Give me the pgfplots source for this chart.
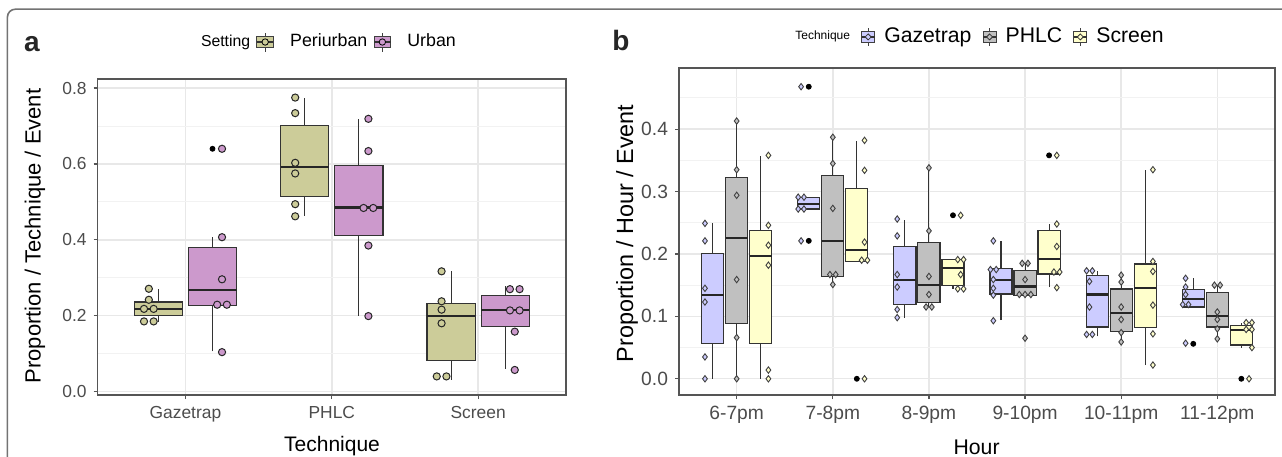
\documentclass[border=0pt]{standalone}
\usepackage{pgfplots}
\pgfplotsset{compat=1.18}
\usepackage{fontspec}
\setmainfont{Liberation Sans}
\definecolor{peri}{RGB}{204,204,153}
\definecolor{urb}{RGB}{204,153,204}
\definecolor{gaze}{RGB}{204,204,255}
\definecolor{phlc}{RGB}{192,192,192}
\definecolor{scr}{RGB}{255,255,204}
\definecolor{frame}{RGB}{85,85,85}
% box: position, lower whisker, Q1, median, Q3, upper whisker, colour ; half width in \bw
\newcommand{\bx}[7]{%
  \pgfmathsetmacro\xl{#1-\bw}\pgfmathsetmacro\xr{#1+\bw}%
  \edef\doit{%
    \noexpand\addplot[forget plot, draw=black!80, line width=0.55pt] coordinates {(#1,#2) (#1,#3)};%
    \noexpand\addplot[forget plot, draw=black!80, line width=0.55pt] coordinates {(#1,#5) (#1,#6)};%
    \noexpand\addplot[forget plot, draw=black!80, fill=#7, line width=0.6pt] coordinates {(\xl,#3) (\xr,#3) (\xr,#5) (\xl,#5)} --cycle;%
    \noexpand\addplot[forget plot, draw=black!85, line width=1.1pt] coordinates {(\xl,#4) (\xr,#4)};%
  }\doit}
\newcommand{\pa}[2]{\addplot[forget plot, only marks, mark=*, mark size=1.8pt, mark options={draw=black!85, fill=#1, line width=0.5pt}] coordinates {#2};}
\newcommand{\pb}[2]{\addplot[forget plot, only marks, mark=diamond*, mark size=1.6pt, mark options={draw=black!75, fill=#1, line width=0.45pt}] coordinates {#2};}
\newcommand{\outl}[1]{\addplot[forget plot, only marks, mark=*, mark size=1.25pt, mark options={draw=black, fill=black}] coordinates {#1};}
\newcommand{\keya}[1]{%
  \draw[black!75,line width=0.5pt] (4.15pt,-4.75pt)--(4.15pt,4.75pt);
  \draw[black!75,fill=#1,line width=0.5pt] (0pt,-2.9pt) rectangle (8.3pt,2.9pt);
  \draw[black!80,line width=0.7pt] (0pt,0pt)--(8.3pt,0pt);
  \draw[black,fill=#1,line width=0.4pt] (4.15pt,0pt) circle (1.6pt);}
\newcommand{\keyb}[1]{%
  \draw[black!75,line width=0.45pt] (3.25pt,-4.5pt)--(3.25pt,4.5pt);
  \draw[black!75,fill=#1,line width=0.45pt] (0pt,-2.6pt) rectangle (6.5pt,2.6pt);
  \draw[black!80,line width=0.6pt] (0pt,0pt)--(6.5pt,0pt);
  \draw[black!80,fill=#1,line width=0.4pt] (3.25pt,1.5pt)--(4.75pt,0pt)--(3.25pt,-1.5pt)--(1.75pt,0pt)--cycle;}
\pgfplotsset{
  ggbase/.style={
    scale only axis, anchor=south west,
    /pgf/number format/assume math mode=true,
    grid=both,
    major grid style={color=black!9, line width=0.7pt},
    minor grid style={color=black!5, line width=0.45pt},
    axis line style={frame, line width=0.6pt},
    tick style={frame, line width=0.6pt},
    major tick length=2pt, minor tick length=0pt, tick align=outside,
    xtick pos=bottom, ytick pos=left,
    yticklabel style={/pgf/number format/.cd, fixed, fixed zerofill, precision=1},
    legend style={draw=none, fill=none, legend columns=-1, inner sep=0pt},
  }
}
\begin{document}
\begin{tikzpicture}
\path[use as bounding box] (0,0) rectangle (641pt,228pt);
\fill[white] (0,0) rectangle (641pt,228pt);
\draw[black!55, line width=0.8pt, rounded corners=4pt] (3.7pt,-2pt) -- (3.7pt,223.4pt) -- (645pt,223.4pt);

% ---------------- panel a ----------------
\def\bw{0.165}
\begin{axis}[ggbase,
  at={(48.8pt,30.5pt)}, width=234.2pt, height=158pt,
  xmin=0.4, xmax=3.6, ymin=-0.009, ymax=0.824,
  xtick={1,2,3}, xticklabels={Gazetrap,PHLC,Screen},
  ytick={0,0.2,0.4,0.6,0.8}, minor ytick={0.1,0.3,0.5,0.7},
  tick label style={font=\fontsize{8.7}{10}\selectfont, text=black!70},
  legend style={at={(0.48,1.117)}, anchor=center, font=\fontsize{8.9}{10}\selectfont,
      /tikz/every even column/.append style={column sep=1pt},
      /tikz/every odd column/.append style={column sep=6pt}},
]
\addlegendimage{empty legend}\addlegendentry{\fontsize{7.9}{9}\selectfont Setting}
\addlegendimage{legend image code/.code={\keya{peri}}}\addlegendentry{Periurban}
\addlegendimage{legend image code/.code={\keya{urb}}}\addlegendentry{Urban}
% Periurban boxes
\bx{0.815}{0.183}{0.200}{0.218}{0.236}{0.271}{peri}
\bx{1.815}{0.464}{0.514}{0.593}{0.701}{0.775}{peri}
\bx{2.815}{0.031}{0.082}{0.200}{0.233}{0.317}{peri}
% Urban boxes
\bx{1.185}{0.106}{0.227}{0.268}{0.379}{0.407}{urb}
\bx{2.185}{0.200}{0.411}{0.485}{0.597}{0.719}{urb}
\bx{3.185}{0.060}{0.171}{0.215}{0.253}{0.279}{urb}
\outl{(1.185,0.640)}
\pa{peri}{(0.75,0.271) (0.75,0.242) (0.717,0.218) (0.783,0.218) (0.717,0.185) (0.783,0.185)
 (1.75,0.775) (1.75,0.734) (1.75,0.603) (1.75,0.575) (1.75,0.494) (1.75,0.462)
 (2.75,0.317) (2.75,0.238) (2.75,0.216) (2.75,0.180) (2.717,0.040) (2.783,0.040)}
\pa{urb}{(1.25,0.640) (1.25,0.407) (1.25,0.296) (1.217,0.229) (1.283,0.229) (1.25,0.104)
 (2.25,0.719) (2.25,0.634) (2.217,0.484) (2.283,0.484) (2.25,0.385) (2.25,0.199)
 (3.217,0.270) (3.283,0.270) (3.217,0.214) (3.283,0.214) (3.25,0.158) (3.25,0.057)}
\end{axis}

% ---------------- panel b ----------------
\def\bw{0.115}
\begin{axis}[ggbase,
  at={(339.5pt,30.5pt)}, width=298pt, height=163.5pt,
  xmin=0.4, xmax=6.6, ymin=-0.026, ymax=0.498,
  xtick={1,2,3,4,5,6}, xticklabels={6-7pm,7-8pm,8-9pm,9-10pm,10-11pm,11-12pm},
  ytick={0,0.1,0.2,0.3,0.4}, minor ytick={0.05,0.15,0.25,0.35,0.45},
  tick label style={font=\fontsize{9.6}{11}\selectfont, text=black!70},
  legend style={at={(0.5,1.095)}, anchor=center, font=\fontsize{10.6}{12}\selectfont,
      /tikz/every even column/.append style={column sep=3.5pt},
      /tikz/every odd column/.append style={column sep=2.5pt}},
]
\addlegendimage{empty legend}\addlegendentry{\fontsize{6}{7}\selectfont Technique}
\addlegendimage{legend image code/.code={\keyb{gaze}}}\addlegendentry{Gazetrap}
\addlegendimage{legend image code/.code={\keyb{phlc}}}\addlegendentry{PHLC}
\addlegendimage{legend image code/.code={\keyb{scr}}}\addlegendentry{Screen}
% Gazetrap
\bx{0.75}{0}{0.056}{0.134}{0.201}{0.249}{gaze}
\bx{1.75}{0.272}{0.272}{0.280}{0.291}{0.291}{gaze}
\bx{2.75}{0.098}{0.119}{0.158}{0.212}{0.255}{gaze}
\bx{3.75}{0.094}{0.136}{0.158}{0.177}{0.220}{gaze}
\bx{4.75}{0.068}{0.083}{0.135}{0.166}{0.172}{gaze}
\bx{5.75}{0.115}{0.115}{0.128}{0.143}{0.161}{gaze}
% PHLC
\bx{1}{0}{0.089}{0.226}{0.323}{0.413}{phlc}
\bx{2}{0.151}{0.164}{0.221}{0.326}{0.387}{phlc}
\bx{3}{0.115}{0.122}{0.150}{0.219}{0.338}{phlc}
\bx{4}{0.133}{0.133}{0.148}{0.174}{0.185}{phlc}
\bx{5}{0.059}{0.076}{0.106}{0.144}{0.166}{phlc}
\bx{6}{0.064}{0.083}{0.100}{0.138}{0.150}{phlc}
% Screen
\bx{1.25}{0}{0.056}{0.197}{0.237}{0.357}{scr}
\bx{2.25}{0.188}{0.188}{0.206}{0.305}{0.381}{scr}
\bx{3.25}{0.144}{0.150}{0.178}{0.191}{0.191}{scr}
\bx{4.25}{0.147}{0.168}{0.192}{0.237}{0.248}{scr}
\bx{5.25}{0.022}{0.082}{0.145}{0.184}{0.334}{scr}
\bx{6.25}{0.050}{0.054}{0.078}{0.086}{0.090}{scr}
\outl{(1.75,0.468) (1.75,0.221) (2.25,0) (3.25,0.262) (4.25,0.358) (5.75,0.056) (6.25,0)}
\pb{gaze}{(0.67,0.249) (0.67,0.221) (0.67,0.145) (0.67,0.123) (0.67,0.035) (0.67,0)
 (1.67,0.468) (1.64,0.291) (1.70,0.291) (1.64,0.272) (1.70,0.272) (1.67,0.221)
 (2.67,0.256) (2.67,0.229) (2.67,0.167) (2.67,0.147) (2.67,0.111) (2.67,0.098)
 (3.67,0.221) (3.64,0.175) (3.70,0.175) (3.67,0.159) (3.67,0.145) (3.67,0.134) (3.67,0.093)
 (4.64,0.173) (4.70,0.173) (4.67,0.156) (4.67,0.115) (4.64,0.071) (4.70,0.071)
 (5.67,0.161) (5.67,0.147) (5.67,0.135) (5.64,0.119) (5.70,0.119) (5.67,0.057)}
\pb{phlc}{(1,0.413) (1,0.335) (1,0.294) (1,0.159) (1,0.066) (1,0)
 (2,0.387) (2,0.345) (2,0.273) (1.97,0.167) (2.03,0.167) (2,0.151)
 (3,0.338) (3,0.237) (3,0.164) (3,0.135) (2.97,0.115) (3.03,0.115)
 (3.97,0.185) (4.03,0.185) (4,0.159) (3.94,0.135) (4,0.135) (4.06,0.135) (4,0.065)
 (5,0.166) (5,0.155) (5,0.115) (5,0.095) (5,0.074) (5,0.059)
 (5.97,0.150) (6.03,0.150) (6,0.107) (6,0.095) (6,0.080) (6,0.064)}
\pb{scr}{(1.33,0.358) (1.33,0.246) (1.33,0.214) (1.33,0.182) (1.33,0.014) (1.33,0)
 (2.33,0.382) (2.33,0.334) (2.33,0.219) (2.30,0.190) (2.36,0.190) (2.33,0)
 (3.33,0.262) (3.30,0.191) (3.36,0.191) (3.33,0.167) (3.30,0.144) (3.36,0.144)
 (4.33,0.358) (4.33,0.248) (4.33,0.212) (4.30,0.171) (4.36,0.171) (4.33,0.146)
 (5.33,0.335) (5.33,0.188) (5.33,0.172) (5.33,0.118) (5.33,0.072) (5.33,0.022)
 (6.30,0.090) (6.36,0.090) (6.30,0.079) (6.36,0.079) (6.36,0.050) (6.33,0)}
\end{axis}

% ---------------- texts ----------------
\node[font=\fontsize{14}{16}\selectfont\bfseries, text=black!85] at (16pt,206pt) {a};
\node[font=\fontsize{14}{16}\selectfont\bfseries, text=black!85] at (310.5pt,208pt) {b};
\node[rotate=90, font=\fontsize{11}{13}\selectfont] at (17.5pt,110pt) {Proportion / Technique / Event};
\node[rotate=90, font=\fontsize{11.7}{13}\selectfont] at (313.5pt,111.25pt) {Proportion / Hour / Event};
\node[anchor=base, font=\fontsize{10.5}{12}\selectfont, inner sep=0pt] at (166pt,2pt) {Technique};
\node[anchor=base, font=\fontsize{10.6}{12}\selectfont, inner sep=0pt] at (488.3pt,1pt) {Hour};
\end{tikzpicture}
\end{document}
